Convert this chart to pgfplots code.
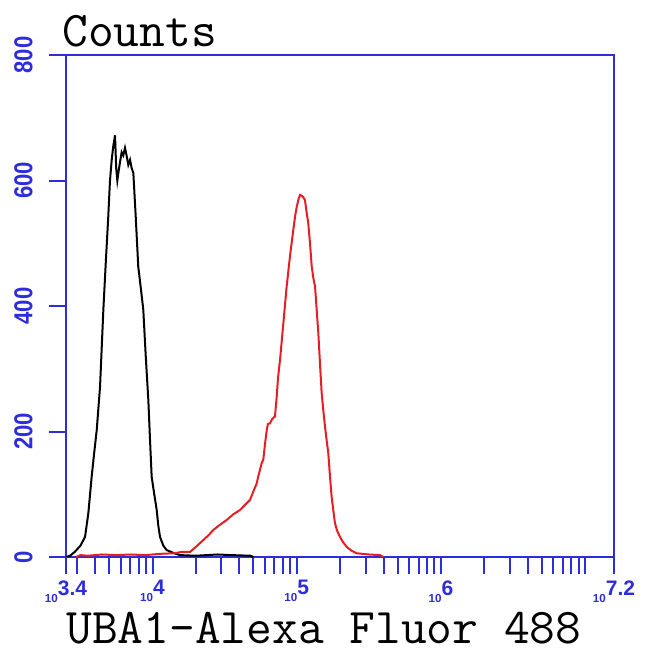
\documentclass[border=0pt]{standalone}
\usepackage{graphicx}
\usepackage{pgfplots}
\pgfplotsset{compat=1.18}
\usepackage{fontspec}
\newfontfamily\tickfont{Liberation Sans}
\definecolor{axblue}{RGB}{45,45,220}
\definecolor{cred}{RGB}{232,28,36}
\newcommand\xl[1]{{\fontsize{5.8}{6}\selectfont\bfseries 10}\raisebox{3.5pt}{\fontsize{10.5}{11}\selectfont #1}}
\newcommand\yl[1]{\scalebox{0.85}[1]{\fontsize{13}{13}\selectfont\bfseries #1}}

\pgfplotstableread{
lx cnt
3.400 0
3.428 2
3.460 8
3.500 18
3.532 32
3.555 70
3.578 128
3.595 165
3.613 202
3.636 271
3.659 394
3.676 470
3.693 542
3.705 600
3.717 633
3.728 655
3.740 672
3.748 620
3.756 600
3.763 612
3.775 630
3.786 645
3.797 640
3.809 652
3.820 640
3.832 625
3.844 633
3.855 620
3.867 612
3.884 540
3.901 463
3.918 430
3.936 394
3.953 320
3.971 250
3.982 190
3.994 128
4.012 100
4.029 75
4.040 50
4.052 32
4.075 18
4.098 11
4.150 6
4.191 3
4.300 2
4.450 4
4.550 3
4.680 2
4.700 0
}\ctrl

\pgfplotstableread{
lx cnt
3.470 0
3.500 3
3.550 2
3.650 4
3.750 3
3.850 4
3.950 3
4.050 5
4.150 6
4.200 8
4.260 8
4.300 16
4.352 27
4.390 35
4.421 43
4.460 50
4.514 59
4.560 68
4.607 75
4.645 84
4.676 91
4.700 105
4.722 117
4.733 128
4.745 139
4.757 150
4.768 155
4.780 180
4.792 202
4.800 212
4.815 213
4.830 220
4.849 224
4.861 255
4.870 285
4.884 314
4.907 372
4.930 431
4.953 479
4.976 521
4.990 545
5.000 558
5.012 570
5.023 577
5.040 575
5.057 569
5.068 550
5.080 532
5.092 500
5.104 463
5.115 445
5.127 431
5.138 395
5.150 356
5.162 305
5.173 261
5.185 232
5.196 208
5.208 185
5.219 165
5.230 130
5.242 96
5.255 72
5.265 54
5.280 42
5.300 32
5.320 24
5.347 16
5.380 10
5.416 6
5.500 4
5.578 3
5.600 0
}\uba

\begin{document}
\begin{tikzpicture}
\path[use as bounding box] (-33pt,-50pt) rectangle (292pt,278.5pt);
\begin{axis}[
  at={(0,0)}, anchor=south west,
  scale only axis, width=274pt, height=251pt,
  xmin=3.4, xmax=7.2, ymin=0, ymax=800,
  axis line style={axblue, line width=1pt},
  minor tick style={axblue, line width=1pt},
  tick align=outside,
  major tick length=0pt, minor tick length=8.5pt,
  xtick pos=left, ytick pos=left,
  xtick={3.4,4,5,6,7.2},
  xticklabels={\xl{3.4},\xl{4},\xl{5},\xl{6},\xl{7.2}},
  minor xtick={3.47712,3.60206,3.69897,3.77815,3.84510,3.90309,3.95424,
    4.30103,4.47712,4.60206,4.69897,4.77815,4.84510,4.90309,4.95424,
    5.30103,5.47712,5.60206,5.69897,5.77815,5.84510,5.90309,5.95424,
    6.30103,6.47712,6.60206,6.69897,6.77815,6.84510,6.90309,6.95424,7},
  ytick={0,200,400,600,800},
  yticklabels={\yl{0},\yl{200},\yl{400},\yl{600},\yl{800}},
  xticklabel style={font=\tickfont\bfseries, text=axblue, anchor=north, inner sep=0pt},
  yticklabel style={font=\tickfont, text=axblue, rotate=90, anchor=south, inner sep=0pt},
  xticklabel shift=11.5pt,
  yticklabel shift=16.5pt,
  xlabel={\fontsize{25}{28}\selectfont\ttfamily UBA1-Alexa Fluor 488},
  xlabel style={at={(axis description cs:0,0)}, anchor=base west, yshift=-43pt, xshift=0pt, inner sep=0pt},
  clip=false,
]
\addplot[black, line width=1pt] table[x=lx, y=cnt] {\ctrl};
\addplot[cred, line width=1pt] table[x=lx, y=cnt] {\uba};
% major tick marks
\addplot[axblue, line width=1pt, forget plot] coordinates {(3.4,0) (3.4,-27.1)};
\addplot[axblue, line width=1pt, forget plot] coordinates {(4,0) (4,-27.1)};
\addplot[axblue, line width=1pt, forget plot] coordinates {(5,0) (5,-27.1)};
\addplot[axblue, line width=1pt, forget plot] coordinates {(6,0) (6,-27.1)};
\addplot[axblue, line width=1pt, forget plot] coordinates {(7.2,0) (7.2,-27.1)};
\addplot[axblue, line width=1pt, forget plot] coordinates {(3.4,0) (3.2821,0)};
\addplot[axblue, line width=1pt, forget plot] coordinates {(3.4,200) (3.2821,200)};
\addplot[axblue, line width=1pt, forget plot] coordinates {(3.4,400) (3.2821,400)};
\addplot[axblue, line width=1pt, forget plot] coordinates {(3.4,600) (3.2821,600)};
\addplot[axblue, line width=1pt, forget plot] coordinates {(3.4,800) (3.2821,800)};
\end{axis}
\node[anchor=base west, inner sep=0pt, font=\fontsize{25}{28}\selectfont\ttfamily] at (-2pt,255pt) {Counts};
\end{tikzpicture}
\end{document}
